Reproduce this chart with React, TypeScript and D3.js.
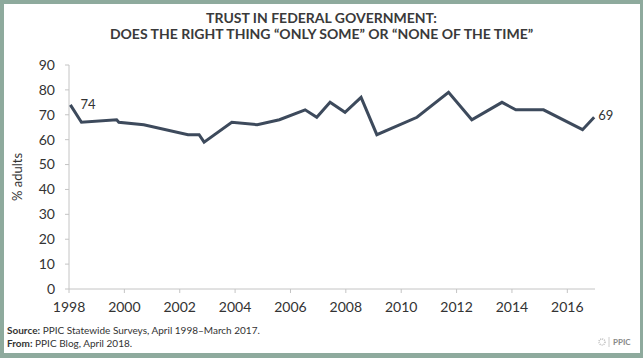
import React from 'react';
import * as d3 from 'd3';

// survey dates (decimal years) and share saying "only some" or "none of the time"
const surveyDates = [
  1998.05, 1998.45, 1999.72, 1999.8, 2000.7, 2002.3, 2002.7, 2002.88, 2003.88, 2004.8,
  2005.6, 2006.53, 2006.95, 2007.43, 2007.97, 2008.55, 2009.12, 2010.57, 2011.71,
  2012.55, 2013.64, 2014.14, 2015.14, 2016.55, 2016.97,
];
const trustValues = [
  74, 67, 68, 67, 66, 62, 62, 59, 67, 66,
  68, 72, 69, 75, 71, 77, 62, 69, 79,
  68, 75, 72, 72, 64, 69,
];
const yearTicks = [1998, 2000, 2002, 2004, 2006, 2008, 2010, 2012, 2014, 2016];
const valueTicks = [0, 10, 20, 30, 40, 50, 60, 70, 80, 90];
const titleLines = [
  'TRUST IN FEDERAL GOVERNMENT:',
  'DOES THE RIGHT THING \u201cONLY SOME\u201d OR \u201cNONE OF THE TIME\u201d',
];
const sourceNote = 'PPIC Statewide Surveys, April 1998\u2013March 2017.';
const fromNote = 'PPIC Blog, April 2018.';

const W = 643;
const H = 358;
const font = 'Lato, "Open Sans", sans-serif';
const textColor = '#333';
const axisColor = '#c4c4c4';
const lineColor = '#3d4a5c';
const frameColor = '#8eaa9d';

export default function App() {
  const x = d3.scaleLinear().domain([1998, 2017]).range([69, 595]);
  const y = d3.scaleLinear().domain([0, 90]).range([289, 65]);

  const points = surveyDates.map((d, i) => ({ date: d, value: trustValues[i] }));
  const line = d3
    .line<{ date: number; value: number }>()
    .x((d) => x(d.date))
    .y((d) => y(d.value));

  const first = points[0];
  const last = points[points.length - 1];

  return (
    <svg
      width={W}
      height={H}
      style={{ position: 'absolute', left: 0, top: 0, fontFamily: font }}
    >
      <rect x={0} y={0} width={W} height={H} fill={frameColor} />
      <rect x={4} y={4} width={W - 7} height={H - 9} fill="#fff" />

      {titleLines.map((t, i) => (
        <text
          key={i}
          x={W / 2}
          y={23 + i * 16}
          textAnchor="middle"
          fontSize={14}
          fontWeight={700}
          fill="#3a3a3a"
        >
          {t}
        </text>
      ))}

      {/* y axis */}
      <line x1={x(1998)} x2={x(1998)} y1={y(90)} y2={y(0)} stroke={axisColor} />
      {valueTicks.map((v) => (
        <g key={v} transform={`translate(0,${y(v)})`}>
          <line x1={x(1998) - 4} x2={x(1998)} stroke={axisColor} />
          <text x={x(1998) - 14} dy="0.35em" textAnchor="end" fontSize={14} fill={textColor}>
            {v}
          </text>
        </g>
      ))}
      <text
        transform={`translate(22,${(y(0) + y(90)) / 2}) rotate(-90)`}
        textAnchor="middle"
        fontSize={13}
        fill={textColor}
      >
        % adults
      </text>

      {/* x axis */}
      <line x1={x(1998)} x2={x(2017)} y1={y(0)} y2={y(0)} stroke={axisColor} />
      {yearTicks.map((yr) => (
        <g key={yr} transform={`translate(${x(yr)},${y(0)})`}>
          <line y1={0} y2={4} stroke={axisColor} />
          <text y={23} textAnchor="middle" fontSize={14} fill={textColor}>
            {yr}
          </text>
        </g>
      ))}

      <path
        d={line(points) || ''}
        fill="none"
        stroke={lineColor}
        strokeWidth={3}
        strokeLinejoin="miter"
      />
      <text x={x(first.date) + 10} y={y(first.value) + 4} fontSize={13} fill={textColor}>
        {first.value}
      </text>
      <text x={x(last.date) + 4} y={y(last.value) + 3} fontSize={13} fill={textColor}>
        {last.value}
      </text>

      {/* footer */}
      <text x={7} y={334} fontSize={10} fill={textColor}>
        <tspan fontWeight={700}>Source:</tspan> {sourceNote}
      </text>
      <text x={7} y={347} fontSize={10} fill={textColor}>
        <tspan fontWeight={700}>From:</tspan> {fromNote}
      </text>
      <g>
        <circle cx={602} cy={342} r={3} fill="none" stroke="#bbb" strokeWidth={1.5} strokeDasharray="1 1" />
        <line x1={609} x2={609} y1={337} y2={347} stroke="#ccc" />
        <text x={613} y={345} fontSize={8} fontWeight={700} fill="#888">
          PPIC
        </text>
      </g>
    </svg>
  );
}
